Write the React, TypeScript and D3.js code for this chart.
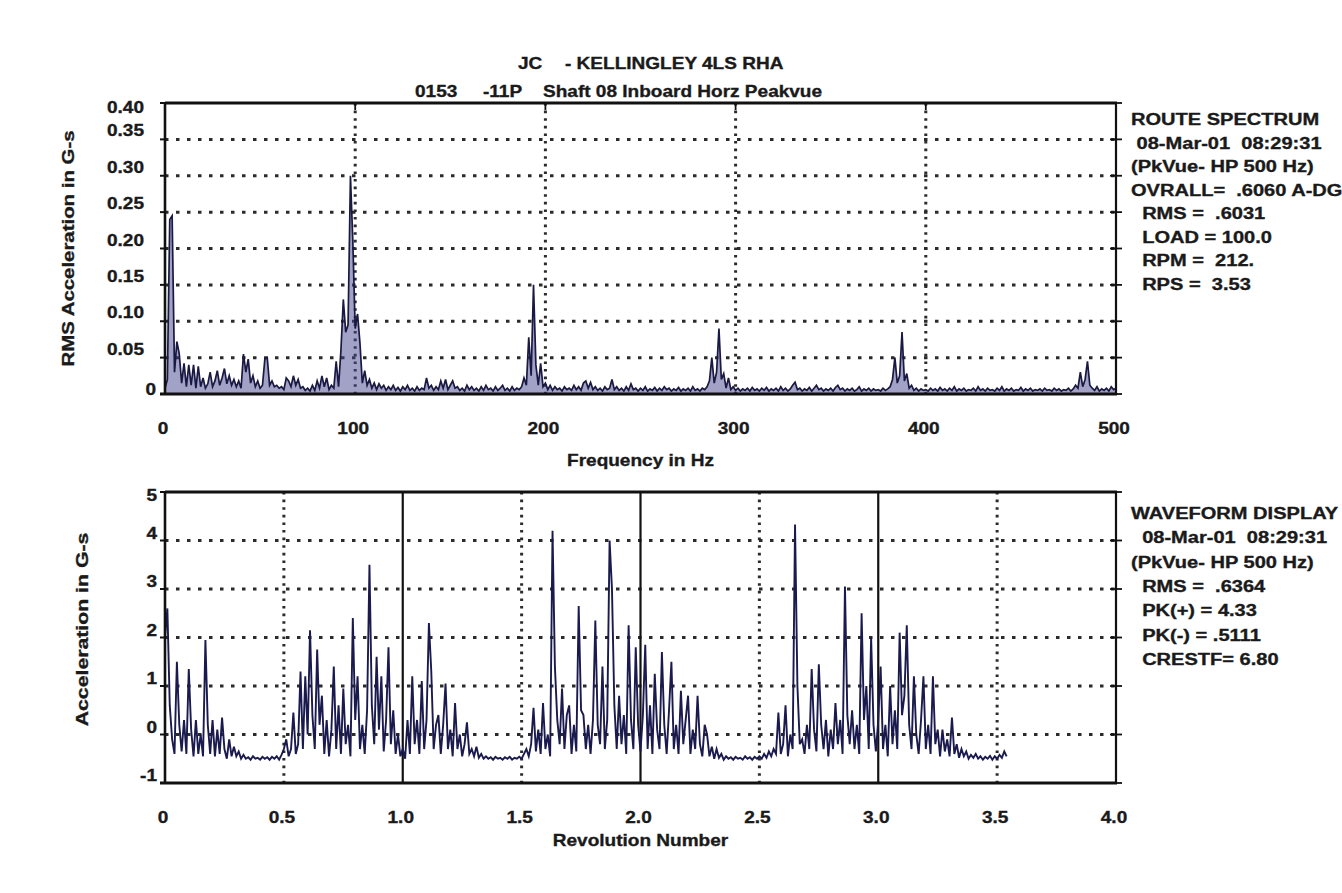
import React from 'react';
import * as d3 from 'd3';

const FONT = "'Liberation Sans', Arial, Helvetica, sans-serif";
const INK = '#1a1a1a';

// ---------- titles / info blocks ----------
const titleLine1 = ['JC', '- KELLINGLEY 4LS RHA'];
const titleLine2 = ['0153', '-11P', 'Shaft 08 Inboard Horz Peakvue'];
const spectrumInfo = [
  'ROUTE SPECTRUM',
  ' 08-Mar-01  08:29:31',
  '(PkVue- HP 500 Hz)',
  'OVRALL=  .6060 A-DG',
  '  RMS =  .6031',
  '  LOAD = 100.0',
  '  RPM =  212.',
  '  RPS =  3.53',
];
const waveInfo = [
  'WAVEFORM DISPLAY',
  '  08-Mar-01  08:29:31',
  '(PkVue- HP 500 Hz)',
  '  RMS =  .6364',
  '  PK(+) = 4.33',
  '  PK(-) = .5111',
  '  CRESTF= 6.80',
];

// ---------- spectrum (RMS acceleration, milli-G, 1.25 Hz lines 0..500 Hz) ----------
const spectrumFreqStep = 1.25;
const spectrumMilliG = [
  // 0 - 100 Hz
  8, 20, 240, 245, 30, 72, 55, 15, 42, 10, 40, 12, 40, 8, 38, 10, 22, 8, 14, 30,
  10, 18, 32, 12, 22, 35, 14, 25, 12, 20, 10, 18, 8, 55, 30, 48, 15, 25, 10, 18,
  8, 12, 48, 50, 12, 18, 10, 12, 8, 10, 6, 22, 18, 10, 25, 12, 20, 8, 10, 5,
  8, 4, 12, 5, 18, 8, 25, 10, 22, 6, 12, 8, 45, 10, 60, 130, 85, 95, 300, 210,
  90,
  // 101.25 - 200 Hz
  110, 70, 15, 32, 12, 20, 8, 15, 6, 14, 8, 12, 5, 10, 6, 12, 5, 9, 4, 10,
  6, 12, 5, 8, 4, 10, 5, 8, 6, 22, 8, 12, 5, 10, 6, 18, 8, 20, 6, 12,
  18, 8, 10, 5, 8, 4, 12, 6, 10, 5, 8, 4, 10, 5, 12, 6, 8, 4, 10, 5,
  8, 12, 5, 8, 4, 10, 5, 8, 6, 10, 22, 12, 78, 25, 150, 40, 12, 42, 10, 15,
  // 201.25 - 300 Hz
  6, 12, 5, 10, 6, 8, 4, 10, 6, 8, 5, 12, 6, 10, 5, 15, 18, 8, 16, 6,
  10, 5, 8, 4, 10, 6, 8, 20, 6, 10, 5, 8, 4, 10, 5, 14, 6, 8, 4, 8,
  5, 10, 4, 7, 5, 9, 4, 8, 5, 10, 6, 8, 4, 7, 5, 9, 4, 7, 5, 8,
  4, 10, 5, 7, 4, 8, 6, 10, 18, 50, 15, 30, 90, 20, 28, 8, 22, 6, 10, 5,
  // 301.25 - 400 Hz
  8, 4, 7, 5, 8, 4, 9, 5, 7, 4, 8, 5, 9, 4, 7, 5, 8, 4, 10, 5,
  8, 4, 7, 12, 16, 6, 8, 4, 7, 5, 9, 4, 8, 12, 6, 8, 4, 7, 5, 8,
  4, 9, 12, 6, 8, 4, 7, 5, 8, 4, 6, 10, 4, 7, 5, 8, 4, 7, 5, 6,
  4, 8, 5, 7, 10, 20, 50, 15, 25, 85, 18, 28, 8, 12, 5, 8, 4, 7, 5, 6,
  // 401.25 - 500 Hz
  4, 8, 5, 7, 4, 9, 5, 7, 4, 8, 5, 10, 4, 7, 5, 8, 4, 6, 5, 8,
  4, 10, 5, 7, 4, 8, 5, 6, 4, 8, 5, 10, 4, 7, 5, 8, 4, 6, 5, 9,
  4, 7, 5, 8, 4, 6, 5, 7, 4, 8, 5, 6, 4, 8, 5, 7, 4, 6, 5, 8,
  4, 7, 12, 8, 30, 10, 20, 45, 12, 8, 5, 10, 4, 7, 5, 8, 4, 10, 6, 8,
];
const freqTicks = [0, 100, 200, 300, 400, 500];
const ampTicks = [0, 0.05, 0.1, 0.15, 0.2, 0.25, 0.3, 0.35, 0.4];
const ampTickLabels = ['0', '0.05', '0.10', '0.15', '0.20', '0.25', '0.30', '0.35', '0.40'];

// ---------- waveform (G-s, every 0.01 revolution) ----------
const waveRevStep = 0.01;
const waveValues = [
  2.0, 2.6, 0.6, -0.1, -0.4, 1.5, 0.2, -0.35, 0.3, -0.4,
  1.35, 0.1, -0.45, 0.3, -0.4, 0.0, -0.45, 1.95, 0.2, -0.4,
  0.3, -0.45, 0.1, -0.4, 0.35, -0.3, -0.5, -0.1, -0.45, -0.25,
  -0.45, -0.35, -0.5, -0.42, -0.5, -0.47, -0.52, -0.45, -0.5, -0.48,
  -0.52, -0.46, -0.5, -0.47, -0.52, -0.46, -0.5, -0.45, -0.52, -0.42,
  -0.3, -0.1, -0.45, -0.3, 0.45, -0.4, -0.2, 1.3, -0.3, 1.2,
  0.0, 2.15, 0.4, -0.3, 1.75, 0.2, 0.8, -0.4, 0.3, -0.45,
  0.1, 1.4, -0.3, 0.6, -0.4, 0.95, -0.2, 0.2, -0.45, 2.4,
  0.3, 1.2, -0.3, 0.2, -0.4, 0.5, 3.5, 0.6, -0.2, 1.6,
  0.1, 1.2, -0.35, 0.3, 1.8, -0.2, 0.5, -0.4, 0.0, -0.45,
  -0.3, -0.5, 0.3, -0.4, 1.2, -0.2, 0.3, -0.4, 1.1, -0.3,
  0.3, 2.3, 1.3, -0.3, 0.2, 0.4, -0.4, 0.2, 1.05, -0.3,
  0.1, -0.45, 0.65, -0.3, 0.0, -0.45, -0.2, 0.25, -0.4, -0.3,
  -0.45, -0.25, -0.48, -0.4, -0.5, -0.45, -0.5, -0.47, -0.52, -0.46,
  -0.5, -0.48, -0.52, -0.47, -0.5, -0.46, -0.52, -0.48, -0.5, -0.46,
  -0.5, -0.4, -0.3, -0.45, -0.2, 0.55, -0.35, 0.1, -0.4, 0.65,
  -0.3, 0.0, -0.45, 4.2, 1.4, 0.3, -0.2, 0.95, -0.3, 0.4,
  0.6, -0.4, 0.2, -0.35, 2.65, 0.5, 0.4, -0.3, 0.2, -0.4,
  0.3, 2.35, 0.2, -0.2, 1.4, -0.3, 0.3, 4.0, 3.0, 0.6,
  -0.3, 0.8, -0.2, 0.4, -0.4, 2.25, 0.3, -0.3, 1.8, 0.2,
  -0.35, 0.4, 1.85, -0.3, 0.6, -0.4, 1.25, 0.1, -0.3, 1.7,
  0.2, -0.4, 0.5, 1.5, -0.3, 0.2, -0.4, 0.9, -0.2, 0.3,
  0.8, -0.4, 0.1, -0.3, 0.8, -0.2, -0.45, 0.2, 0.0, -0.45,
  -0.25, -0.5, -0.3, -0.48, -0.4, -0.52, -0.45, -0.5, -0.47, -0.52,
  -0.46, -0.5, -0.48, -0.52, -0.45, -0.5, -0.47, -0.52, -0.46, -0.5,
  -0.45, -0.5, -0.4, -0.48, -0.35, -0.45, -0.3, -0.4, 0.45, -0.4,
  -0.2, 0.6, -0.45, 0.0, -0.3, 4.33, 1.0, -0.2, -0.1, -0.4,
  0.2, -0.3, 1.35, 0.1, -0.35, 1.45, 0.2, -0.3, 0.3, -0.45,
  0.1, -0.3, 0.65, -0.2, 0.3, -0.4, 3.05, 0.4, -0.2, 0.5,
  -0.3, 0.2, -0.4, 2.5, 0.3, 1.0, -0.3, 2.0, 0.2, -0.35,
  0.3, 1.4, -0.3, 0.2, -0.45, 1.0, -0.2, 0.5, -0.3, 2.1,
  0.4, 0.8, 2.25, 0.2, -0.3, 1.2, 0.0, -0.4, 0.3, 1.2,
  -0.3, 0.2, -0.4, 1.2, -0.2, 0.1, -0.45, 0.1, -0.35, -0.1,
  -0.45, 0.35, -0.4, -0.2, -0.48, -0.3, -0.45, -0.35, -0.5, -0.42,
  -0.48, -0.4, -0.5, -0.45, -0.52, -0.46, -0.5, -0.44, -0.52, -0.45,
  -0.5, -0.42, -0.48, -0.35, -0.45,
];
const revTicks = [0, 0.5, 1, 1.5, 2, 2.5, 3, 3.5, 4];
const revTickLabels = ['0', '0.5', '1.0', '1.5', '2.0', '2.5', '3.0', '3.5', '4.0'];
const accTicks = [-1, 0, 1, 2, 3, 4, 5];
const accTickLabels = ['-1', '0', '1', '2', '3', '4', '5'];

// ---------- layout ----------
const TOP = { left: 165, right: 1116, top: 103, bottom: 394 };
const BOT = { left: 165, right: 1116, top: 492, bottom: 783 };
const SX = 1.12; // horizontal stretch of the scanned lettering

type TProps = {
  x: number; y: number; children: React.ReactNode; anchor?: 'start' | 'middle' | 'end';
  size?: number; rotate?: number; sx?: number;
};
function T({ x, y, children, anchor = 'start', size = 17, rotate = 0, sx = SX }: TProps) {
  return (
    <text
      transform={`translate(${x},${y}) rotate(${rotate}) scale(${sx},1)`}
      textAnchor={anchor}
      fontSize={size}
      fontWeight="bold"
      fontFamily={FONT}
      fill={INK}
      stroke={INK}
      strokeWidth={0.35}
      style={{ whiteSpace: 'pre' }}
    >
      {children}
    </text>
  );
}

const HDOT = { stroke: '#2b2b2b', strokeWidth: 3, strokeDasharray: '3.5 7.5' };
const VDOT = { stroke: '#2b2b2b', strokeWidth: 3, strokeDasharray: '2.6 5' };

export default function App() {
  // scales
  const fx = d3.scaleLinear().domain([0, 500]).range([TOP.left, TOP.right]);
  const fy = d3.scaleLinear().domain([0, 0.4]).range([TOP.bottom, TOP.top]);
  const rx = d3.scaleLinear().domain([0, 4]).range([BOT.left, BOT.right]);
  const ry = d3.scaleLinear().domain([-1, 5]).range([BOT.bottom, BOT.top]);

  const specPts = spectrumMilliG.map((v, i) => [i * spectrumFreqStep, v / 1000] as [number, number]);
  const specArea = d3.area<[number, number]>().x(d => fx(d[0])).y0(fy(0)).y1(d => fy(d[1]))(specPts) || '';
  const specLine = d3.line<[number, number]>().x(d => fx(d[0])).y(d => fy(d[1]))(specPts) || '';

  const wavePts = waveValues.map((v, i) => [i * waveRevStep, v] as [number, number]);
  const waveLine = d3.line<[number, number]>().x(d => rx(d[0])).y(d => ry(d[1]))(wavePts) || '';

  const ampLabelDy = (v: number) => (v === 0.4 ? 4 : v === 0 ? -5 : -9);
  const accLabelDy = (v: number) => (v === 5 ? 3 : -8);

  return (
    <svg width={1342} height={893} style={{ display: 'block', position: 'absolute', left: 0, top: 0, background: '#fff' }}>
      <rect x={0} y={0} width={1342} height={893} fill="#ffffff" />

      {/* titles */}
      <T x={518} y={69}>{titleLine1[0]}</T>
      <T x={565} y={69}>{titleLine1[1]}</T>
      <T x={415} y={97}>{titleLine2[0]}</T>
      <T x={483} y={97}>{titleLine2[1]}</T>
      <T x={543} y={97}>{titleLine2[2]}</T>

      {/* ================= TOP: spectrum ================= */}
      {ampTicks.filter(v => v > 0 && v < 0.4).map(v => (
        <line key={'hg' + v} x1={TOP.left} x2={TOP.right} y1={fy(v)} y2={fy(v)} {...HDOT} />
      ))}
      {freqTicks.filter(v => v > 0 && v < 500).map(v => (
        <line key={'vg' + v} x1={fx(v)} x2={fx(v)} y1={TOP.top} y2={TOP.bottom} {...VDOT} />
      ))}
      <path d={specArea} fill="#45458f" fillOpacity={0.5} stroke="none" />
      <path d={specLine} fill="none" stroke="#191943" strokeWidth={1.7} strokeLinejoin="miter" />

      {/* frame */}
      <line x1={TOP.left} x2={TOP.right + 1} y1={TOP.top} y2={TOP.top} stroke="#111" strokeWidth={3.2} />
      <line x1={TOP.left - 5} x2={TOP.right + 1} y1={TOP.bottom} y2={TOP.bottom} stroke="#111" strokeWidth={3} />
      <line x1={TOP.left} x2={TOP.left} y1={TOP.top} y2={TOP.bottom} stroke="#111" strokeWidth={2.6} />
      <line x1={TOP.right} x2={TOP.right} y1={TOP.top} y2={TOP.bottom} stroke="#111" strokeWidth={2.2} />
      {ampTicks.map(v => (
        <g key={'at' + v}>
          <line x1={TOP.left - 5} x2={TOP.left} y1={fy(v)} y2={fy(v)} stroke="#111" strokeWidth={2} />
          <line x1={TOP.right - 6} x2={TOP.right + 6} y1={fy(v)} y2={fy(v)} stroke="#111" strokeWidth={1.8} />
        </g>
      ))}
      {freqTicks.filter(v => v > 0 && v < 500).map(v => (
        <line key={'tt' + v} x1={fx(v)} x2={fx(v)} y1={TOP.top} y2={TOP.top + 7} stroke="#111" strokeWidth={1.8} />
      ))}
      {ampTicks.map((v, i) => (
        <T key={'al' + v} x={v === 0 ? 156 : 144} y={fy(v) + ampLabelDy(v) + 6} anchor="end">{ampTickLabels[i]}</T>
      ))}
      {freqTicks.map(v => (
        <T key={'fl' + v} x={fx(v) - 2} y={434} anchor="middle">{String(v)}</T>
      ))}
      <T x={(TOP.left + TOP.right) / 2} y={466} anchor="middle">Frequency in Hz</T>
      <T x={74} y={(TOP.top + TOP.bottom) / 2} anchor="middle" rotate={-90} sx={1.2}>RMS Acceleration in G-s</T>
      {spectrumInfo.map((s, i) => (
        <T key={'si' + i} x={1131} y={125 + i * 23.5} sx={1.18}>{s}</T>
      ))}

      {/* ================= BOTTOM: waveform ================= */}
      {accTicks.filter(v => v >= 0 && v < 5).map(v => (
        <line key={'whg' + v} x1={BOT.left} x2={BOT.right} y1={ry(v)} y2={ry(v)} {...HDOT} />
      ))}
      {revTicks.filter(v => v > 0 && v < 4).map(v =>
        Number.isInteger(v) ? (
          <line key={'wvg' + v} x1={rx(v)} x2={rx(v)} y1={BOT.top} y2={BOT.bottom} stroke="#111" strokeWidth={2.2} />
        ) : (
          <line key={'wvg' + v} x1={rx(v)} x2={rx(v)} y1={BOT.top} y2={BOT.bottom} {...VDOT} />
        )
      )}
      <path d={waveLine} fill="none" stroke="#1a1a4e" strokeWidth={1.9} strokeLinejoin="miter" />

      <line x1={BOT.left} x2={BOT.right + 1} y1={BOT.top} y2={BOT.top} stroke="#111" strokeWidth={3.2} />
      <line x1={BOT.left - 5} x2={BOT.right + 1} y1={BOT.bottom} y2={BOT.bottom} stroke="#111" strokeWidth={3} />
      <line x1={BOT.left} x2={BOT.left} y1={BOT.top} y2={BOT.bottom} stroke="#111" strokeWidth={2.6} />
      <line x1={BOT.right} x2={BOT.right} y1={BOT.top} y2={BOT.bottom} stroke="#111" strokeWidth={2.2} />
      {accTicks.map(v => (
        <g key={'act' + v}>
          <line x1={BOT.left - 5} x2={BOT.left} y1={ry(v)} y2={ry(v)} stroke="#111" strokeWidth={2} />
          <line x1={BOT.right - 6} x2={BOT.right + 6} y1={ry(v)} y2={ry(v)} stroke="#111" strokeWidth={1.8} />
        </g>
      ))}
      {accTicks.map((v, i) => (
        <T key={'acl' + v} x={157} y={ry(v) + accLabelDy(v) + 6} anchor="end">{accTickLabels[i]}</T>
      ))}
      {revTicks.map((v, i) => (
        <T key={'rl' + v} x={rx(v) - 2} y={823} anchor="middle">{revTickLabels[i]}</T>
      ))}
      <T x={(BOT.left + BOT.right) / 2} y={846} anchor="middle">Revolution Number</T>
      <T x={88} y={(BOT.top + BOT.bottom) / 2 - 8} anchor="middle" rotate={-90} sx={1.25}>Acceleration in G-s</T>
      {waveInfo.map((s, i) => (
        <T key={'wi' + i} x={1131} y={519 + i * 24.3} sx={1.18}>{s}</T>
      ))}
    </svg>
  );
}
